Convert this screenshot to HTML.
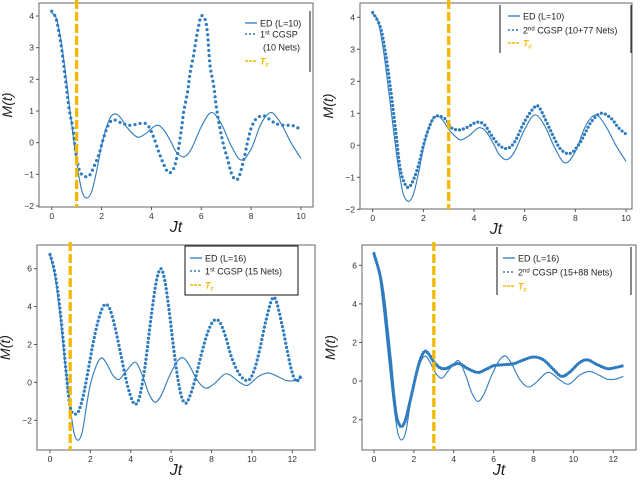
<!DOCTYPE html>
<html><head><meta charset="utf-8"><style>
body{margin:0;background:#fff;width:640px;height:484px;overflow:hidden}
svg text{font-family:"Liberation Sans",sans-serif}
</style></head><body>
<svg id="c" width="640" height="484" viewBox="0 0 640 484" xmlns="http://www.w3.org/2000/svg"></svg>
<script>
// ---- data ----
const edT10 = [0,0.2,0.4,0.6,0.8,1.0,1.2,1.4,1.6,1.8,2.0,2.2,2.4,2.6,2.8,3.0,3.3,3.5,3.8,4.2,4.5,4.8,5.0,5.3,5.6,6.0,6.4,6.8,7.2,7.6,8.0,8.4,8.8,9.2,9.6,10];
const edV10 = [4.1,3.9,3.1,1.9,0.6,-0.6,-1.5,-1.75,-1.55,-0.9,-0.1,0.5,0.85,0.9,0.75,0.5,0.25,0.17,0.3,0.55,0.4,0,-0.3,-0.45,-0.2,0.5,0.95,0.6,-0.1,-0.55,-0.2,0.6,0.95,0.6,0,-0.5];
const g1T = [0,0.1,0.2,0.3,0.4,0.5,0.6,0.7,0.85,0.95,1.1,1.3,1.5,1.7,1.9,2.1,2.3,2.5,2.8,3.1,3.4,3.7,3.9,4.1,4.3,4.5,4.7,4.9,5.05,5.2,5.3,5.45,5.55,5.7,5.8,5.9,6.0,6.15,6.25,6.35,6.5,6.6,6.75,6.9,7.05,7.2,7.35,7.5,7.7,7.85,8.0,8.2,8.5,8.8,9.0,9.3,9.6,9.8,10];
const g1V = [4.15,4.05,3.85,3.45,2.95,2.35,1.7,1.05,0.45,-0.2,-0.85,-1.05,-1.05,-0.75,-0.35,0.2,0.6,0.72,0.62,0.55,0.58,0.62,0.5,0.15,-0.3,-0.7,-0.95,-0.8,-0.35,0.4,1.0,1.6,2.2,2.8,3.3,3.7,4.0,3.9,3.45,2.45,1.8,1.15,0.45,-0.1,-0.5,-0.95,-1.15,-1.1,-0.55,0,0.45,0.75,0.85,0.7,0.6,0.55,0.55,0.5,0.4];
const g2T = [0,0.3,0.5,0.7,0.9,1.05,1.15,1.3,1.45,1.65,1.85,2.0,2.2,2.4,2.6,2.9,3.1,3.4,3.7,4.1,4.4,4.7,5.0,5.3,5.6,6.0,6.4,6.6,7.0,7.4,7.8,8.2,8.6,9.0,9.4,9.7,10];
const g2V = [4.15,3.7,2.9,1.8,0.5,-0.55,-0.95,-1.25,-1.3,-1.0,-0.5,0,0.5,0.85,0.92,0.8,0.55,0.48,0.55,0.72,0.65,0.3,0,-0.1,0.1,0.75,1.2,1.15,0.5,-0.1,-0.25,0.1,0.7,1.0,0.85,0.55,0.35];
const edT16 = [0,0.25,0.5,0.75,1.0,1.2,1.4,1.6,1.8,2.0,2.3,2.55,2.8,3.1,3.4,3.7,4.1,4.3,4.6,4.9,5.2,5.5,5.9,6.3,6.6,6.9,7.3,7.7,8.1,8.6,8.9,9.4,9.8,10.3,10.8,11.3,11.7,12.1,12.5];
const edV16 = [6.7,5.6,3.5,1.0,-1.3,-2.7,-3.05,-2.6,-1.3,-0.1,0.9,1.3,1.0,0.4,0.15,0.5,1.0,1.0,0.3,-0.6,-1.05,-0.7,0.3,1.1,1.3,0.9,0.1,-0.3,-0.1,0.4,0.4,0,-0.15,0.3,0.5,0.3,0.1,0.1,0.25];
const g3T = [0,0.2,0.4,0.6,0.8,1.0,1.2,1.4,1.6,1.8,2.0,2.2,2.45,2.7,2.95,3.2,3.5,3.8,4.05,4.25,4.45,4.7,4.9,5.1,5.3,5.5,5.7,5.9,6.1,6.3,6.5,6.7,6.9,7.2,7.5,7.8,8.1,8.4,8.7,9.0,9.4,9.8,10.1,10.4,10.7,11.0,11.2,11.5,11.8,12.0,12.2,12.4];
const g3V = [6.75,6.0,4.7,2.8,0.5,-1.3,-1.65,-1.55,-0.9,0.1,1.3,2.4,3.5,4.1,3.9,3.0,1.5,0,-0.9,-1.15,-0.7,0.8,2.5,4.2,5.5,6.0,5.3,3.8,2.0,0.4,-0.7,-1.1,-0.8,0.2,1.5,2.6,3.25,3.2,2.4,1.3,0.4,0.1,0.6,1.8,3.3,4.4,4.3,3.0,1.4,0.5,0.05,0.3];
const g4T = [0,0.3,0.5,0.7,0.85,1.0,1.15,1.35,1.55,1.75,1.95,2.15,2.35,2.55,2.75,3.0,3.3,3.6,4.0,4.3,4.7,5.2,5.6,6.0,6.5,7.0,7.5,8.0,8.5,9.0,9.4,9.8,10.3,10.7,11.2,11.7,12.1,12.5];
const g4V = [6.6,5.5,4.2,2.3,0.8,-0.8,-1.9,-2.35,-2.1,-1.3,-0.4,0.5,1.2,1.55,1.4,1.0,0.7,0.65,0.85,0.9,0.65,0.45,0.6,0.8,0.85,0.9,1.1,1.25,1.1,0.6,0.25,0.45,0.95,1.1,0.85,0.65,0.7,0.8];
const xTicks10 = [0,2,4,6,8,10];
const xTicks12 = [0,2,4,6,8,10,12];
const yTicks4 = [-2,-1,0,1,2,3,4];
const yTicks6 = [-2,0,2,4,6];

const NS="http://www.w3.org/2000/svg";
const svg=document.getElementById('c');
function mk(tag,attrs,parent){const e=document.createElementNS(NS,tag);for(const k in attrs)e.setAttribute(k,attrs[k]);(parent||svg).appendChild(e);return e;}
function spline(pts){let d=`M${pts[0][0].toFixed(1)},${pts[0][1].toFixed(1)}`;
 for(let i=0;i<pts.length-1;i++){const p0=pts[Math.max(0,i-1)],p1=pts[i],p2=pts[i+1],p3=pts[Math.min(pts.length-1,i+2)];
 const c1=[p1[0]+(p2[0]-p0[0])/6,p1[1]+(p2[1]-p0[1])/6],c2=[p2[0]-(p3[0]-p1[0])/6,p2[1]-(p3[1]-p1[1])/6];
 d+=` C${c1[0].toFixed(1)},${c1[1].toFixed(1)} ${c2[0].toFixed(1)},${c2[1].toFixed(1)} ${p2[0].toFixed(1)},${p2[1].toFixed(1)}`;}return d;}

function panel(cfg){
 const g=mk('g',{});
 
 
 const X=v=>cfg.x0+(v-cfg.xv0)*(cfg.x1-cfg.x0)/(cfg.xv1-cfg.xv0);
 const Y=v=>cfg.y0+(v-cfg.yv0)*(cfg.y1-cfg.y0)/(cfg.yv1-cfg.yv0);
 const fr=mk('rect',{x:cfg.L,y:cfg.T,width:cfg.R-cfg.L,height:cfg.B-cfg.T,fill:'none',stroke:'#666','stroke-width':1},g);
 
 
 cfg.xt.forEach(v=>{const x=X(v);mk('line',{x1:x,y1:cfg.B,x2:x,y2:cfg.B+3,stroke:'#555'},g);
  const t=mk('text',{x:x,y:cfg.B+12,'font-size':8.5,'text-anchor':'middle',fill:'#333'},g);t.textContent=String(v);
  
  });
 cfg.yt.forEach((v,i)=>{const y=Y(v);mk('line',{x1:cfg.L-3,y1:y,x2:cfg.L,y2:y,stroke:'#555'},g);
  const lab=cfg.ytl?cfg.ytl[i]:(v<0?'\u2212'+(-v):String(v));
  const t=mk('text',{x:cfg.L-5,y:y+3,'font-size':8.5,'text-anchor':'end',fill:'#333'},g);t.textContent=lab;
  
  });
 const yl=mk('text',{x:0,y:0,'font-size':14,'font-style':'italic','font-family':'Liberation Serif, serif','text-anchor':'middle',fill:'#222',transform:`translate(${cfg.L-27},${(cfg.T+cfg.B)/2}) rotate(-90)`},g);
 yl.textContent='M(t)';
 
 
 const xl=mk('text',{x:(cfg.L+cfg.R)/2,y:cfg.B+25,'font-size':16,'font-style':'italic','font-family':'Liberation Serif, serif','text-anchor':'middle',fill:'#222'},g);
 xl.textContent='Jt';
 
 
 const ed=mk('path',{d:spline(cfg.edT.map((t,i)=>[X(t),Y(cfg.edV[i])])),fill:'none',stroke:'#2f7bbf','stroke-width':1.1},g);
 
 
 const gs=mk('path',{d:spline(cfg.gT.map((t,i)=>[X(t),Y(cfg.gV[i])])),fill:'none',stroke:'#2f7bbf','stroke-width':3.2,'stroke-linecap':'round','stroke-dasharray':cfg.dash},g);
 
 
 const tc=mk('line',{x1:X(cfg.tc),y1:cfg.T-3,x2:X(cfg.tc),y2:cfg.B,stroke:'#f5b800','stroke-width':3.3,'stroke-dasharray':'9,3'},g);
 
 
 const lg=mk('g',{},g);
 
 
 if(cfg.box==='rect')mk('rect',{x:cfg.lb[0],y:cfg.lb[1],width:cfg.lb[2],height:cfg.lb[3],fill:'#fff',stroke:'#111','stroke-width':1},lg);
 else if(cfg.box==='bars'){mk('line',{x1:cfg.lb[0],y1:cfg.lb[1],x2:cfg.lb[0],y2:cfg.lb[1]+cfg.lb[3],stroke:'#111'},lg);mk('line',{x1:cfg.lb[0]+cfg.lb[2],y1:cfg.lb[1],x2:cfg.lb[0]+cfg.lb[2],y2:cfg.lb[1]+cfg.lb[3],stroke:'#111'},lg);}
 else mk('line',{x1:cfg.lb[0],y1:cfg.lb[1],x2:cfg.lb[0],y2:cfg.lb[1]+cfg.lb[3],stroke:'#111'},lg);
 cfg.leg.forEach((e,i)=>{const y=cfg.ly[i];
  if(e.type==='ed')mk('line',{x1:cfg.lx,y1:y,x2:cfg.lx+12,y2:y,stroke:'#2f7bbf','stroke-width':1.3},lg);
  else if(e.type==='gs')mk('line',{x1:cfg.lx+1,y1:y,x2:cfg.lx+12,y2:y,stroke:'#2f7bbf','stroke-width':2,'stroke-linecap':'round','stroke-dasharray':'0,4'},lg);
  else mk('line',{x1:cfg.lx,y1:y,x2:cfg.lx+12,y2:y,stroke:'#f5b800','stroke-width':1.5,'stroke-dasharray':'3,1'},lg);
  e.lines.forEach((ln,k)=>{const t=mk('text',{x:cfg.lx+15+(k?3:0),y:y+3.5+k*13,'font-size':9,fill:e.type==='tc'?'#f5b800':'#222','font-style':e.type==='tc'?'italic':'normal','font-weight':e.type==='tc'?'bold':'normal','font-family':e.type==='tc'?'Liberation Serif, serif':'Liberation Sans, sans-serif'},lg);
   t.innerHTML=ln;
   
   });
 });
}
const sup=s=>`<tspan font-size="6" dy="-3">${s}</tspan><tspan dy="3">`;
panel({name:'panel-1st-cgsp-L10',L:39,R:313,T:3,B:207,x0:51.7,x1:301,xv0:0,xv1:10,y0:16,y1:206,yv0:4,yv1:-2,xt:xTicks10,yt:yTicks4,
 edT:edT10,edV:edV10,gT:g1T,gV:g1V,tc:1.0,dash:'0,5.2',box:'line',lb:[310,11,0,61],lx:245,ly:[23,34,61],
 leg:[{type:'ed',lines:['ED (L=10)']},{type:'gs',lines:['1'+sup('st')+' CGSP</tspan>','(10 Nets)']},{type:'tc',lines:['T'+'<tspan font-size="6" dy="2">c</tspan>']}]});
panel({name:'panel-2nd-cgsp-L10',L:360,R:632,T:3,B:209,x0:372.7,x1:626,xv0:0,xv1:10,y0:17.3,y1:209.3,yv0:4,yv1:-2,xt:xTicks10,yt:yTicks4,
 edT:edT10,edV:edV10,gT:g2T,gV:g2V,tc:3.0,dash:'0,4',box:'bars',lb:[500,5,131,48],lx:508,ly:[16,30,43],
 leg:[{type:'ed',lines:['ED (L=10)']},{type:'gs',lines:['2'+sup('nd')+' CGSP (10+77 Nets)</tspan>']},{type:'tc',lines:['T'+'<tspan font-size="6" dy="2">c</tspan>']}]});
panel({name:'panel-1st-cgsp-L16',L:37,R:315,T:245,B:450,x0:50,x1:292.3,xv0:0,xv1:12,y0:268.7,y1:420.3,yv0:6,yv1:-2,xt:xTicks12,yt:yTicks6,
 edT:edT16,edV:edV16,gT:g3T,gV:g3V,tc:1.0,dash:'0,4.2',box:'rect',lb:[185,246,113,49],lx:190,ly:[258,271,285],
 leg:[{type:'ed',lines:['ED (L=16)']},{type:'gs',lines:['1'+sup('st')+' CGSP (15 Nets)</tspan>']},{type:'tc',lines:['T'+'<tspan font-size="6" dy="2">c</tspan>']}]});
panel({name:'panel-2nd-cgsp-L16',L:362,R:636,T:245,B:450,x0:374,x1:613.3,xv0:0,xv1:12,y0:265.3,y1:419.7,yv0:6,yv1:-2,xt:xTicks12,yt:yTicks6,ytl:["2","0","2","4","6"],
 edT:edT16,edV:edV16,gT:g4T,gV:g4V,tc:3.0,dash:'0,2.4',box:'bars',lb:[497,247,134,48],lx:503,ly:[258,272,286],
 leg:[{type:'ed',lines:['ED (L=16)']},{type:'gs',lines:['2'+sup('nd')+' CGSP (15+88 Nets)</tspan>']},{type:'tc',lines:['T'+'<tspan font-size="6" dy="2">c</tspan>']}]});
</script>
</body></html>
